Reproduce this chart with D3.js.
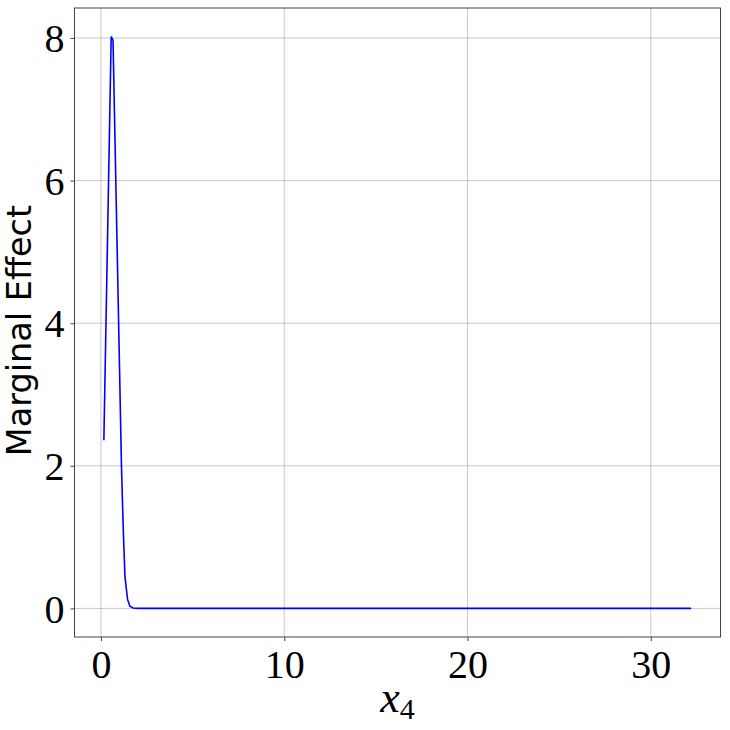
<!doctype html>
<html>
  <head>
    <meta charset="utf-8">
    <title>Marginal effect</title>
    <style>
      body { margin: 0; background: #fff; }
      .grid line { stroke: #b0b0b0; stroke-opacity: 0.7; stroke-width: 1; }
      .tick text { font-family: "Liberation Serif", serif; font-size: 40px; fill: #000; }
      .frame { fill: none; stroke: #444; stroke-width: 1; }
    </style>
  </head>
  <body>
    <div id="chart"></div>
    <script src="https://cdn.jsdelivr.net/npm/d3@7"></script>
    <script>
      // values
      var xValues = [0.16, 0.56, 0.66, 1.12, 1.22, 1.31, 1.45, 1.58, 1.76, 2.0, 5, 10, 15, 20, 25, 30, 32.2];
      var yValues = [2.36, 8.02, 7.97, 2.0, 1.1, 0.45, 0.13, 0.03, 0.005, 0.0, 0, 0, 0, 0, 0, 0, 0];
      var xTicks = [0, 10, 20, 30];
      var yTicks = [0, 2, 4, 6, 8];

      (function() {
        var width = 730, height = 730;
        var plotLeft = 74.5, plotRight = 720.5, plotTop = 8, plotBottom = 637;

        var svg = d3.select('#chart').append('svg')
          .attr('width', width)
          .attr('height', height);

        // matplotlib style 5% margins
        var xe = d3.extent(xValues), ye = d3.extent(yValues);
        var xm = (xe[1] - xe[0]) * 0.05, ym = (ye[1] - ye[0]) * 0.05;
        var x = d3.scaleLinear().domain([xe[0] - xm, xe[1] + xm]).range([plotLeft, plotRight]);
        var y = d3.scaleLinear().domain([ye[0] - ym, ye[1] + ym]).range([plotBottom, plotTop]);

        // grid
        var grid = svg.append('g').attr('class', 'grid');
        grid.selectAll('.gx').data(xTicks).enter().append('line')
          .attr('x1', function(d) { return x(d); }).attr('x2', function(d) { return x(d); })
          .attr('y1', plotTop).attr('y2', plotBottom);
        grid.selectAll('.gy').data(yTicks).enter().append('line')
          .attr('y1', function(d) { return y(d); }).attr('y2', function(d) { return y(d); })
          .attr('x1', plotLeft).attr('x2', plotRight);

        // axes
        var xAxis = d3.axisBottom(x).tickValues(xTicks).tickSize(4).tickPadding(6).tickFormat(d3.format('d'));
        var yAxis = d3.axisLeft(y).tickValues(yTicks).tickSize(4).tickPadding(6).tickFormat(d3.format('d'));

        var gx = svg.append('g').attr('transform', 'translate(0,' + plotBottom + ')').call(xAxis);
        var gy = svg.append('g').attr('transform', 'translate(' + plotLeft + ',0)').call(yAxis);
        [gx, gy].forEach(function(g) {
          g.select('.domain').remove();
          g.selectAll('.tick line').attr('stroke', '#444');
        });
        gx.selectAll('.tick text').attr('dy', '0.78em');
        gy.selectAll('.tick text').attr('dy', '0.34em');

        // line
        var line = d3.line()
          .x(function(d) { return x(d[0]); })
          .y(function(d) { return y(d[1]); });
        svg.append('path')
          .datum(d3.zip(xValues, yValues))
          .attr('d', line)
          .attr('fill', 'none')
          .attr('stroke', '#0000ff')
          .attr('stroke-width', 1.6);

        // frame
        svg.append('rect').attr('class', 'frame')
          .attr('x', plotLeft).attr('y', plotTop)
          .attr('width', plotRight - plotLeft).attr('height', plotBottom - plotTop);

        // labels
        var xl = svg.append('text')
          .attr('x', (plotLeft + plotRight) / 2)
          .attr('y', 712)
          .attr('text-anchor', 'middle')
          .style('font-family', '"Liberation Serif", serif')
          .style('font-size', '44px');
        xl.append('tspan').style('font-style', 'italic').text('x');
        xl.append('tspan').attr('dy', 7).style('font-size', '30px').text('4');

        svg.append('text')
          .attr('transform', 'translate(31,' + ((plotTop + plotBottom) / 2 + 8) + ') rotate(-90)')
          .attr('text-anchor', 'middle')
          .style('font-family', '"DejaVu Sans", sans-serif')
          .style('font-size', '33.5px')
          .text('Marginal Effect');
      })();
    </script>
  </body>
</html>
